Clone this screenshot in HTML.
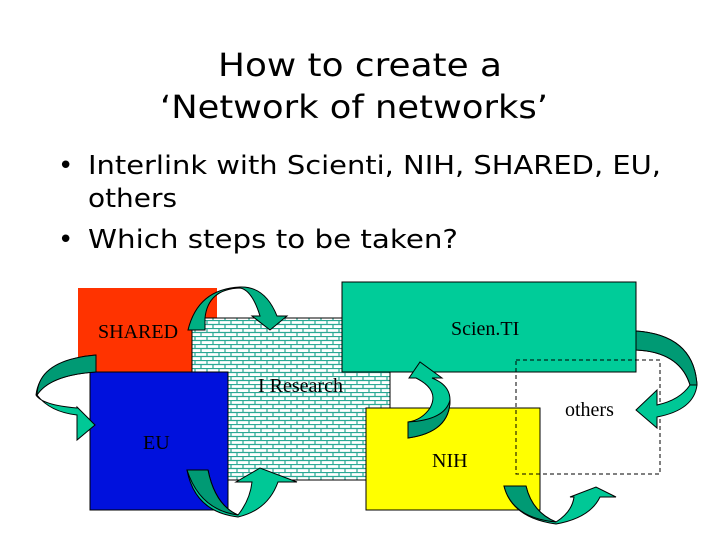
<!DOCTYPE html>
<html><head><style>
body{margin:0;background:#fff;}
svg{display:block}
</style></head><body>
<svg width="720" height="540" viewBox="0 0 720 540" xmlns="http://www.w3.org/2000/svg">
<defs>
<pattern id="brick" width="12" height="8" patternUnits="userSpaceOnUse">
<rect width="12" height="8" fill="#fff"/>
<path d="M0 0.5H12M0 4.5H12M3 0V4M9 4V8" stroke="#2aa894" stroke-width="1.2" fill="none"/>
</pattern>
</defs>
<g font-family="DejaVu Sans, sans-serif" fill="#000">
<text x="218" y="76" font-size="32" textLength="284" lengthAdjust="spacingAndGlyphs">How to create a</text>
<text x="160" y="118" font-size="32" textLength="388" lengthAdjust="spacingAndGlyphs">‘Network of networks’</text>
<text x="58" y="174" font-size="26">•</text>
<text x="88" y="174" font-size="26" textLength="573" lengthAdjust="spacingAndGlyphs">Interlink with Scienti, NIH, SHARED, EU,</text>
<text x="88" y="207" font-size="26" textLength="89" lengthAdjust="spacingAndGlyphs">others</text>
<text x="58" y="248" font-size="26">•</text>
<text x="88" y="248" font-size="26" textLength="370" lengthAdjust="spacingAndGlyphs">Which steps to be taken?</text>
</g>
<rect x="78" y="288" width="139" height="85" fill="#ff3300"/>
<rect x="192" y="318" width="198" height="162" fill="url(#brick)" stroke="#000" stroke-width="1"/>
<rect x="90" y="372" width="138" height="138" fill="#0011dd" stroke="#000" stroke-width="1"/>
<rect x="342" y="282" width="294" height="90" fill="#00cc99" stroke="#000" stroke-width="1"/>
<rect x="366" y="408" width="174" height="102" fill="#ffff00" stroke="#000" stroke-width="1"/>
<rect x="516" y="360" width="144" height="114" fill="none" stroke="#000" stroke-width="1" stroke-dasharray="4,3"/>
<g font-family="Liberation Serif, serif" font-size="20" fill="#000">
<text x="98" y="338">SHARED</text>
<text x="258" y="392">I Research</text>
<text x="143" y="449">EU</text>
<text x="451" y="335">Scien.TI</text>
<text x="565" y="416">others</text>
<text x="432" y="467">NIH</text>
</g>
<g fill="#00c896" stroke="#000" stroke-width="1">
<path d="M205 330 L205 318 Q208 289 240 288 Q252 290 260 316 L252 316 L270 330 L287 316 L277 316 Q265 286 240 287 Q198 289 188 330 Z" fill="#00b083"/>
<path d="M96 355 L96 372 Q50 375 37 395 Q50 412 77 415 L77 440 L95 425 L77 407 L77 408 Q42 405 36 395 Q40 360 96 355Z"/>
<path d="M96 355 L96 372 Q50 375 37 395 Q38 360 96 355Z" fill="#009a74"/>
<path d="M187 470 L208 470 Q215 505 238 515 Q250 500 252 482 L236 482 L260 468 L297 482 L278 482 Q268 510 238 517 Q195 512 187 470Z"/>
<path d="M187 470 L208 470 Q215 505 238 515 Q200 510 187 470Z" fill="#009a74"/>
<path d="M408 422 L408 438 Q450 432 450 400 Q450 385 432 378 L442 378 L420 362 L409 378 L416 378 Q440 390 430 408 Q422 420 408 422Z"/>
<path d="M408 422 L408 438 Q450 432 450 400 Q445 420 408 422Z" fill="#009a74"/>
<path d="M636 331 L636 350 Q680 352 690 385 Q680 400 657 405 L657 390 L636 410 L657 428 L657 417 Q694 410 697 385 Q694 335 636 331Z"/>
<path d="M636 331 L636 350 Q680 352 690 385 L697 385 Q694 335 636 331Z" fill="#009a74"/>
<path d="M504 486 L526 486 Q532 512 556 522 Q572 512 574 497 L570 497 L596 487 L616 497 L600 497 Q590 518 556 524 Q512 518 504 486Z"/>
<path d="M504 486 L526 486 Q532 512 556 522 Q512 518 504 486Z" fill="#009a74"/>
</g>
</svg>
</body></html>
